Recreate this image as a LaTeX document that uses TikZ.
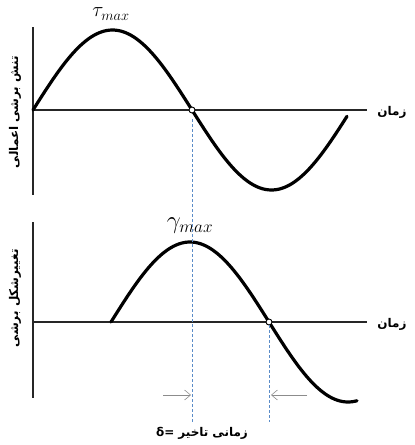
\documentclass[tikz,border=0pt]{standalone}
\usepackage{fontspec}
\newfontfamily\arabicfont[Script=Arabic]{DejaVu Sans}
\TeXXeTstate=1
\usetikzlibrary{arrows.meta}
\definecolor{guideblue}{RGB}{90,140,200}
\definecolor{markgray}{RGB}{140,140,140}
\begin{document}
\begin{tikzpicture}[x=1pt,y=-1pt,
  axis/.style={line width=1.8pt, black!85},
  wave/.style={line width=3.2pt, line join=round, line cap=round},
  guide/.style={draw=guideblue, line width=0.6pt, dash pattern=on 3pt off 2pt},
  marker/.style={draw=markgray, line width=0.6pt, -{Straight Barb[length=6pt,width=10pt]}},
  zero/.style={circle, draw, fill=white, inner sep=0pt, minimum size=6pt, line width=0.9pt},
  arlabel/.style={font=\arabicfont\bfseries\fontsize{12}{14}\selectfont, inner sep=0pt},
  mathlabel/.style={inner sep=0pt}]
\useasboundingbox (0,0) rectangle (415,445);
% top graph
\coordinate (tv1) at (33,27);
\coordinate (tv2) at (33,195);
\coordinate (th1) at (33,110);
\coordinate (th2) at (367,110);
\draw[axis] (tv1) -- (tv2);
\draw[axis] (th1) -- (th2);
\draw[wave] plot[domain=33:347, samples=120] (\x, {110-80*sin((\x-33)/318*360)});
\node[zero] (c1) at (192,110) {};
\node[mathlabel] (tau) at (111,14) {\fontsize{20}{22}\selectfont$\tau_{max}$};
\node[arlabel, rotate=90] (ylab1) at (15,112) {\beginR تنش برشی اعمالی\endR};
\node[arlabel] (xlab1) at (392,112) {\beginR زمان\endR};
% bottom graph
\coordinate (bv1) at (33,222);
\coordinate (bv2) at (33,398);
\coordinate (bh1) at (33,322);
\coordinate (bh2) at (367,322);
\draw[axis] (bv1) -- (bv2);
\draw[axis] (bh1) -- (bh2);
\draw[wave] plot[domain=111:357, samples=120] (\x, {322-80*sin((\x-111)/316*360)});
\node[zero] (c2) at (269,322) {};
\node[mathlabel] (gam) at (190,226) {\fontsize{24}{26}\selectfont$\gamma_{max}$};
\node[arlabel, rotate=90] (ylab2) at (15,298) {\beginR تغییرشکل برشی\endR};
\node[arlabel] (xlab2) at (392,324) {\beginR زمان\endR};
% delay guides
\coordinate (g1) at (192,422);
\coordinate (g2) at (269,422);
\draw[guide] (c1.south) ++(0,6) -- (g1);
\draw[guide] (c2.south) -- (g2);
\coordinate (a1) at (163,395);
\coordinate (a1e) at (191,395);
\coordinate (a2) at (307,395);
\coordinate (a2e) at (271,395);
\draw[marker] (a1) -- (a1e);
\draw[marker] (a2) -- (a2e);
\node[arlabel] (delay) at (202,433) {\mbox{δ=}\hspace{4pt}\mbox{\beginR تاخیر\endR}\hspace{4pt}\mbox{\beginR زمانی\endR}};
\end{tikzpicture}
\end{document}
